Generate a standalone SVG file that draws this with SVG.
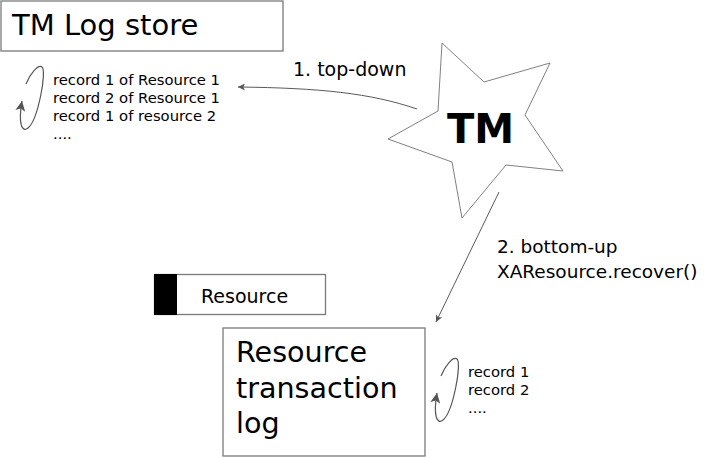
<svg xmlns="http://www.w3.org/2000/svg" width="704" height="457" viewBox="0 0 704 457">
<style>
text{font-family:"DejaVu Sans","Liberation Sans",sans-serif;fill:#000}
.box{fill:#fff;stroke:#7a7a7a;stroke-width:1.3}
.conn{fill:none;stroke:#5a5a5a;stroke-width:1}
.loop{fill:none;stroke:#555;stroke-width:1.2}
.rec{font-size:14.8px}
.lbl{font-size:19px}
.lbl2{font-size:18.5px}
.big{font-size:28.6px}
</style>
<defs>
<marker id="ah" viewBox="0 0 10 10" refX="10" refY="5" markerWidth="9" markerHeight="7" orient="auto" markerUnits="userSpaceOnUse">
<path d="M0,0 L10,5 L0,10 L2.5,5 Z" fill="#555"/>
</marker>
<marker id="lh" viewBox="0 0 10 10" refX="10" refY="5" markerWidth="13" markerHeight="10" orient="auto" markerUnits="userSpaceOnUse">
<path d="M0,0 L10,5 L0,10 L2.5,5 Z" fill="#555"/>
</marker>
</defs>
<rect width="704" height="457" fill="#fff"/>

<g id="tm-log-store">
<rect class="box" x="1" y="1" width="282" height="50"/>
<text x="12" y="35" font-size="29px">TM Log store</text>
</g>

<g id="tm-log-records">
<path class="loop" d="M26,84 C30,74 38,64 42,67 C47,71 38,120 28,128 C22,133 18,124 22,101" marker-end="url(#lh)"/>
<text class="rec" x="53" y="85">record 1 of Resource 1</text>
<text class="rec" x="53" y="103">record 2 of Resource 1</text>
<text class="rec" x="53" y="121">record 1 of resource 2</text>
<text class="rec" x="53" y="139">....</text>
</g>

<g id="tm">
<polygon points="442,43 484,82 550,63 525,115 563,171 506,165 462,218 452,162 388,139 438,111" fill="#fff" stroke="#808080" stroke-width="1"/>
<text x="447" y="143" font-size="40px" font-weight="bold">TM</text>
</g>

<g id="resource">
<rect class="box" x="154.5" y="274.5" width="171" height="40"/>
<rect x="154" y="274" width="23" height="41" fill="#000"/>
<text x="201" y="303" font-size="19px">Resource</text>
</g>

<g id="resource-log">
<rect class="box" x="223" y="328" width="202" height="128"/>
<text class="big" x="236" y="362">Resource</text>
<text class="big" x="236" y="398">transaction</text>
<text class="big" x="236" y="433">log</text>
</g>

<g id="resource-log-records">
<path class="loop" d="M26,84 C30,74 38,64 42,67 C47,71 38,120 28,128 C22,133 18,124 22,101" transform="translate(415,292)" marker-end="url(#lh)"/>
<text class="rec" x="468" y="377">record 1</text>
<text class="rec" x="468" y="395">record 2</text>
<text class="rec" x="468" y="413">....</text>
</g>

<g id="connectors">
<path class="conn" d="M417,109 C370,93 320,88 238,87" marker-end="url(#ah)"/>
<text class="lbl" x="293" y="76">1. top-down</text>
<path class="conn" d="M499,192 L436,322" marker-end="url(#ah)"/>
<text class="lbl2" x="497" y="253">2. bottom-up</text>
<text class="lbl2" x="497" y="278">XAResource.recover()</text>
</g>
</svg>
